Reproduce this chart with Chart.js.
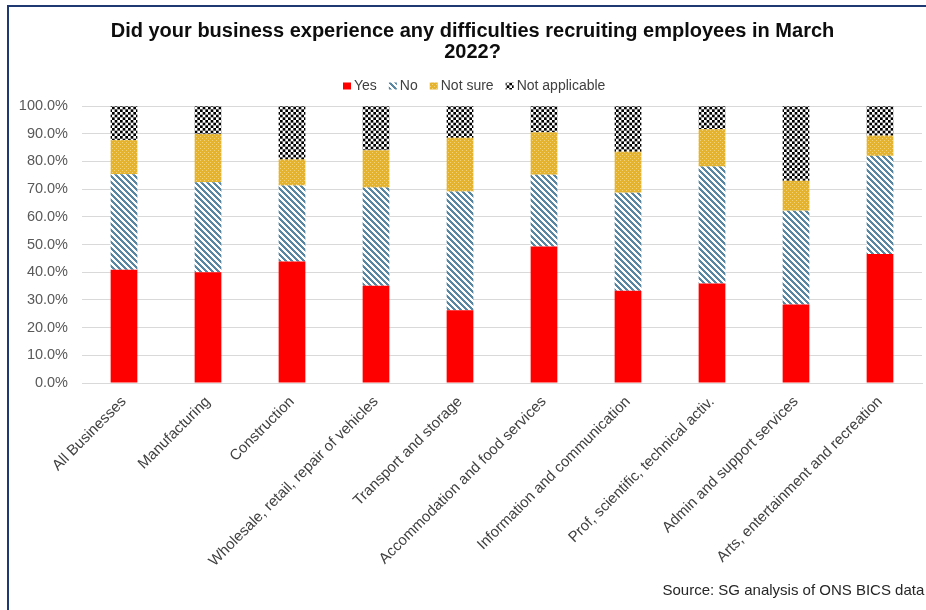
<!DOCTYPE html>
<html>
<head>
<meta charset="utf-8">
<script src="https://cdn.jsdelivr.net/npm/chart.js@4.4.1/dist/chart.umd.min.js"></script>
<style>
  html, body { margin: 0; padding: 0; background: #ffffff; overflow: hidden; }
  #wrap { position: relative; width: 926px; height: 610px; overflow: hidden; }
  #frame {
    position: absolute; left: 7px; top: 5px; width: 1000px; height: 1000px;
    border-left: 2.5px solid #1f3a73; border-top: 2.5px solid #1f3a73;
  }
  canvas { position: absolute; left: 0; top: 0; }
</style>
</head>
<body>
<div id="wrap">
  <div id="frame"></div>
  <canvas id="chart" width="926" height="610"></canvas>
</div>
<script>
// Sectors surveyed
const categories = [
  'All Businesses',
  'Manufacturing',
  'Construction',
  'Wholesale, retail, repair of vehicles',
  'Transport and storage',
  'Accommodation and food services',
  'Information and communication',
  'Prof, scientific, technical activ.',
  'Admin and support services',
  'Arts, entertainment and recreation'
];

// Share of businesses giving each answer (%)
const yes           = [40.9, 40.0, 43.9, 35.1, 26.3, 49.3, 33.3, 35.9, 28.3, 46.6];
const no            = [34.5, 32.5, 27.4, 35.5, 42.8, 25.9, 35.4, 42.3, 33.9, 35.4];
const notSure       = [12.3, 17.4,  9.4, 13.4, 19.4, 15.3, 14.8, 13.4, 10.8,  7.3];
const notApplicable = [12.3, 10.1, 19.3, 16.0, 11.5,  9.5, 16.5,  8.4, 27.0, 10.7];

const seriesNames = ['Yes', 'No', 'Not sure', 'Not applicable'];
const yTickLabels = ['0.0%', '10.0%', '20.0%', '30.0%', '40.0%', '50.0%',
                     '60.0%', '70.0%', '80.0%', '90.0%', '100.0%'];
const titleLines = [
  'Did your business experience any difficulties recruiting employees in March',
  '2022?'
];
const sourceNote = 'Source: SG analysis of ONS BICS data';

const FONT = '"Liberation Sans", Arial, Helvetica, sans-serif';
Chart.defaults.font.family = FONT;

const canvas = document.getElementById('chart');
const ctx = canvas.getContext('2d');

// Small repeating tiles used as fill patterns
function makeTile(size, paint) {
  const t = document.createElement('canvas');
  t.width = t.height = size;
  paint(t.getContext('2d'), size);
  return t;
}

// Diagonal blue stripes on white
const stripePattern = ctx.createPattern(makeTile(6, (g, s) => {
  g.fillStyle = '#ffffff';
  g.fillRect(0, 0, s, s);
  g.fillStyle = '#5787a3';
  for (let y = 0; y < s; y++) {
    for (let x = 0; x < s; x++) {
      if ((((x - y) % s) + s) % s < 3) g.fillRect(x, y, 1, 1);
    }
  }
}), 'repeat');

// Gold with fine light dots
const dotPattern = ctx.createPattern(makeTile(4, (g, s) => {
  g.fillStyle = '#e6b42c';
  g.fillRect(0, 0, s, s);
  g.fillStyle = '#f2d27c';
  g.fillRect(0, 0, 1, 1);
  g.fillRect(2, 2, 1, 1);
}), 'repeat');

// Black and white checkerboard
const checkerPattern = ctx.createPattern(makeTile(16, (g, s) => {
  g.fillStyle = '#ffffff';
  g.fillRect(0, 0, s, s);
  g.fillStyle = '#000000';
  const c = s / 6;
  for (let j = 0; j < 6; j++) {
    for (let i = 0; i < 6; i++) {
      if ((i + j) % 2 === 0) g.fillRect(i * c, j * c, c, c);
    }
  }
}), 'repeat');

// Title, legend and source note drawn onto the chart canvas
const chartText = {
  id: 'chartText',
  afterDraw(chart) {
    const c = chart.ctx;
    c.save();

    c.fillStyle = '#0d0d0d';
    c.font = 'bold 20px ' + FONT;
    c.textAlign = 'center';
    c.textBaseline = 'alphabetic';
    titleLines.forEach((line, i) => c.fillText(line, 472.5, 37 + i * 21));

    c.font = '14px ' + FONT;
    c.textAlign = 'left';
    c.textBaseline = 'middle';
    let x = 343;
    chart.data.datasets.forEach(ds => {
      c.fillStyle = ds.backgroundColor;
      c.fillRect(x, 82.5, 8, 7);
      c.fillStyle = '#404040';
      c.fillText(ds.label, x + 11, 86);
      x += 11 + c.measureText(ds.label).width + 12;
    });

    c.fillStyle = '#262626';
    c.font = '15px ' + FONT;
    c.textBaseline = 'alphabetic';
    c.fillText(sourceNote, 662.5, 595);

    c.restore();
  }
};

new Chart(ctx, {
  type: 'bar',
  data: {
    labels: categories,
    datasets: [
      { label: seriesNames[0], data: yes,           backgroundColor: '#ff0000' },
      { label: seriesNames[1], data: no,            backgroundColor: stripePattern },
      { label: seriesNames[2], data: notSure,       backgroundColor: dotPattern },
      { label: seriesNames[3], data: notApplicable, backgroundColor: checkerPattern }
    ]
  },
  options: {
    responsive: false,
    animation: false,
    layout: { padding: { top: 106, left: 0, right: 4, bottom: 0 } },
    datasets: { bar: { categoryPercentage: 1, barPercentage: 0.318, borderWidth: 0 } },
    plugins: {
      legend: { display: false },
      title: { display: false },
      tooltip: { enabled: false }
    },
    scales: {
      x: {
        stacked: true,
        grid: { display: false, drawTicks: false, tickLength: 0 },
        border: { display: true, color: '#d9d9d9', width: 1 },
        ticks: {
          autoSkip: false,
          minRotation: 45,
          maxRotation: 45,
          padding: 10,
          color: '#404040',
          font: { size: 15 }
        },
        afterFit(scale) { scale.height = 227; }
      },
      y: {
        stacked: true,
        min: 0,
        max: 100,
        grid: { color: '#d9d9d9', drawTicks: false },
        border: { display: false },
        ticks: {
          stepSize: 10,
          padding: 14,
          color: '#595959',
          font: { size: 14.5 },
          callback: (value) => yTickLabels[Math.round(value / 10)]
        },
        afterFit(scale) { scale.width = 82; }
      }
    }
  },
  plugins: [chartText]
});
</script>
</body>
</html>
